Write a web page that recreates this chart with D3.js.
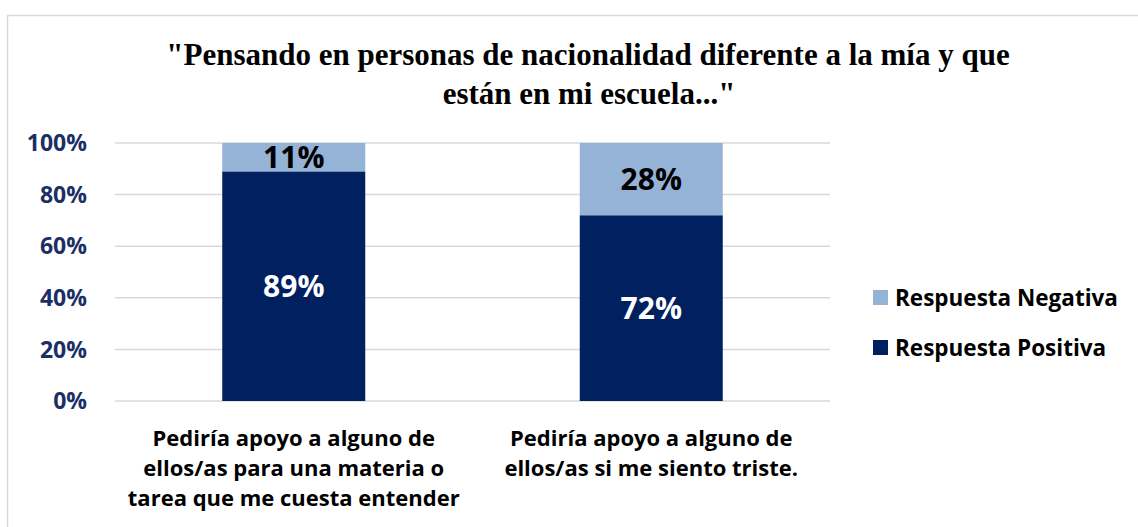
<!DOCTYPE html>
<html lang="es">
<head>
<meta charset="UTF-8">
<title>Chart</title>
<script src="https://d3js.org/d3.v7.min.js"></script>
<style>
  body { margin: 0; background: #fff; }
</style>
</head>
<body>
<script>
const categories = [
  ["Pediría apoyo a alguno de", "ellos/as para una materia o", "tarea que me cuesta entender"],
  ["Pediría apoyo a alguno de", "ellos/as si me siento triste."]
];
const positiva = [89, 72];
const negativa = [11, 28];
const yTicks = [0, 20, 40, 60, 80, 100];
const seriesNames = ["Respuesta Negativa", "Respuesta Positiva"];
const colors = {pos: "#002060", neg: "#95B3D7"};

const W = 1138, H = 527;
const svg = d3.select("body").append("svg")
  .attr("width", W).attr("height", H);

// chart frame
svg.append("rect")
  .attr("x", 7.5).attr("y", 15.5)
  .attr("width", W).attr("height", H)
  .attr("fill", "none").attr("stroke", "#d9d9d9").attr("stroke-width", 1.5);

// title
const title = svg.append("text")
  .attr("text-anchor", "middle")
  .attr("font-family", "'Liberation Serif', 'Times New Roman', serif")
  .attr("font-weight", "bold")
  .attr("font-size", 31)
  .attr("fill", "#000");
title.append("tspan").attr("x", 588).attr("y", 65)
  .text("\"Pensando en personas de nacionalidad diferente a la mía y que");
title.append("tspan").attr("x", 589).attr("y", 104)
  .text("están en mi escuela...\"");

const x = d3.scaleBand()
  .domain(d3.range(categories.length))
  .range([115, 830]);
const y = d3.scaleLinear().domain([0, 100]).range([401, 143]);
const barW = x.bandwidth() / 2.5;

// gridlines
svg.append("g").selectAll("line")
  .data(yTicks).enter().append("line")
  .attr("x1", 115).attr("x2", 830)
  .attr("y1", d => y(d)).attr("y2", d => y(d))
  .attr("stroke", "#d9d9d9").attr("stroke-width", 1.5);

const fontSans = "'Open Sans', sans-serif";

// y tick labels
svg.append("g").selectAll("text")
  .data(yTicks).enter().append("text")
  .attr("x", 87).attr("y", d => y(d))
  .attr("dy", "0.36em")
  .attr("text-anchor", "end")
  .attr("font-family", fontSans)
  .attr("font-weight", "bold")
  .attr("font-size", 23)
  .attr("fill", "#1B2F66")
  .text(d => d + "%");

const cx = i => x(i) + x.bandwidth() / 2;

// positive bars
svg.append("g").selectAll("rect")
  .data(positiva).enter().append("rect")
  .attr("x", (d, i) => cx(i) - barW / 2)
  .attr("y", d => y(d))
  .attr("width", barW)
  .attr("height", d => y(0) - y(d))
  .attr("fill", colors.pos);

// negative bars stacked on top
svg.append("g").selectAll("rect")
  .data(negativa).enter().append("rect")
  .attr("x", (d, i) => cx(i) - barW / 2)
  .attr("y", (d, i) => y(positiva[i] + d))
  .attr("width", barW)
  .attr("height", (d, i) => y(positiva[i]) - y(positiva[i] + d))
  .attr("fill", colors.neg);

// value labels
svg.append("g").selectAll("text")
  .data(positiva).enter().append("text")
  .attr("x", (d, i) => cx(i))
  .attr("y", d => (y(0) + y(d)) / 2)
  .attr("dy", "0.36em")
  .attr("text-anchor", "middle")
  .attr("font-family", fontSans).attr("font-weight", "bold")
  .attr("font-size", 30).attr("fill", "#fff")
  .text(d => d + "%");

svg.append("g").selectAll("text")
  .data(negativa).enter().append("text")
  .attr("x", (d, i) => cx(i))
  .attr("y", (d, i) => (y(positiva[i]) + y(positiva[i] + d)) / 2)
  .attr("dy", "0.36em")
  .attr("text-anchor", "middle")
  .attr("font-family", fontSans).attr("font-weight", "bold")
  .attr("font-size", 30).attr("fill", "#000")
  .text(d => d + "%");

// category labels
categories.forEach((lines, i) => {
  const t = svg.append("text")
    .attr("text-anchor", "middle")
    .attr("font-family", fontSans).attr("font-weight", "bold")
    .attr("font-size", 22).attr("fill", "#000");
  lines.forEach((ln, j) => {
    t.append("tspan").attr("x", cx(i)).attr("y", 446 + j * 30).text(ln);
  });
});

// legend
const legend = svg.append("g").selectAll("g")
  .data(seriesNames).enter().append("g")
  .attr("transform", (d, i) => `translate(873, ${290 + i * 50})`);
legend.append("rect")
  .attr("width", 15).attr("height", 15)
  .attr("fill", (d, i) => i === 0 ? colors.neg : colors.pos);
legend.append("text")
  .attr("x", 22).attr("y", 8).attr("dy", "0.36em")
  .attr("font-family", fontSans).attr("font-weight", "bold")
  .attr("font-size", 22.5).attr("fill", "#000")
  .text(d => d);
</script>
</body>
</html>
